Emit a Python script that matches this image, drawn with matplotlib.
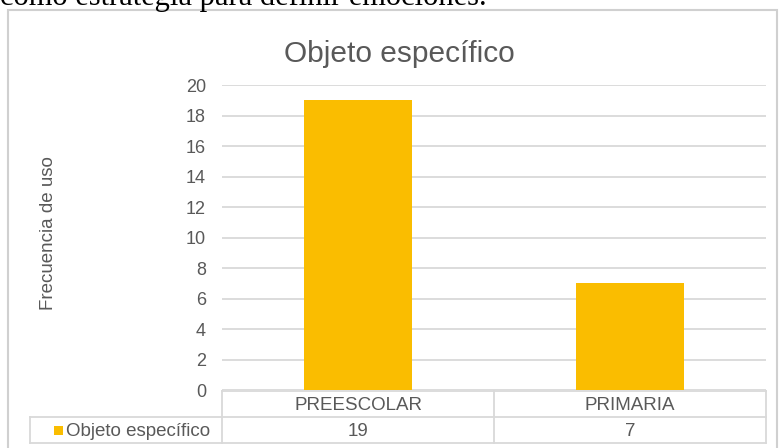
import matplotlib
matplotlib.use("Agg")
import matplotlib.pyplot as plt
from matplotlib.patches import Rectangle
from matplotlib.lines import Line2D

categories = ["PREESCOLAR", "PRIMARIA"]
values = [19, 7]
series_name = "Objeto específico"
title = "Objeto específico"
ylabel = "Frecuencia de uso"
yticks = [0, 2, 4, 6, 8, 10, 12, 14, 16, 18, 20]
caption = "como estrategia para definir emociones."

W, H = 780, 448
BAR = "#FABD00"
GRID = "#D9D9D9"
TXT = "#595959"
FS = 13.5

plt.rcParams['font.family'] = ['Liberation Sans', 'DejaVu Sans']
fig = plt.figure(figsize=(W / 100, H / 100), dpi=100)

def fx(x):
    return x / W

def fy(y):
    return 1 - y / H

# outer chart border
fig.add_artist(Rectangle((fx(8), fy(460)), fx(777 - 8), (460 - 10) / H,
                         transform=fig.transFigure, fill=False,
                         edgecolor="#D0D0D0", lw=1.5))

# caption cut off at top (as in the reference)
fig.text(fx(0), fy(5), caption, family=['Liberation Serif', 'DejaVu Serif'],
         fontsize=22, color="black", ha="left", va="baseline")

x0, x1 = 222, 766
ytop, ybot = 85, 390
ax = fig.add_axes([fx(x0), fy(ybot), fx(x1 - x0), (ybot - ytop) / H])
ax.set_xlim(-0.5, len(categories) - 0.5)
ax.set_ylim(0, 20)
ax.bar(range(len(categories)), values, width=0.4, color=BAR, zorder=3)
ax.set_yticks(yticks)
ax.yaxis.grid(True, color=GRID, lw=1.3, zorder=0)
ax.set_axisbelow(True)
ax.tick_params(axis="y", length=0, pad=11.5, labelsize=13, labelcolor=TXT)
ax.set_xticks([])
for s in ax.spines.values():
    s.set_visible(False)
ax.set_yticklabels([str(t) for t in yticks])

# title and y label
fig.text(fx(399), fy(62), title, fontsize=21.5, color=TXT, ha="center", va="baseline")
fig.text(fx(49), fy(233), ylabel, fontsize=FS, color=TXT, ha="center",
         va="center", rotation=90)

# data table
r0, r1, r2 = 391, 417, 443
lx = 30
colw = (x1 - x0) / len(categories)

def hline(xa, xb, y):
    fig.add_artist(Line2D([fx(xa), fx(xb)], [fy(y), fy(y)], color=GRID, lw=1.3,
                          transform=fig.transFigure))

def vline(x, ya, yb):
    fig.add_artist(Line2D([fx(x), fx(x)], [fy(ya), fy(yb)], color=GRID, lw=1.3,
                          transform=fig.transFigure))

hline(x0, x1, r0)
hline(lx, x1, r1)
hline(lx, x1, r2)
vline(lx, r1, r2)
for i in range(len(categories) + 1):
    vline(x0 + i * colw, r0, r2)

for i, (c, v) in enumerate(zip(categories, values)):
    cx = x0 + (i + 0.5) * colw
    fig.text(fx(cx), fy((r0 + r1) / 2 + 1), c, fontsize=FS, color=TXT,
             ha="center", va="center")
    fig.text(fx(cx), fy((r1 + r2) / 2 + 1), str(v), fontsize=FS, color=TXT,
             ha="center", va="center")

fig.add_artist(Rectangle((fx(54), fy(435)), fx(9), 9 / H, transform=fig.transFigure,
                         facecolor=BAR, edgecolor="none"))
fig.text(fx(66), fy((r1 + r2) / 2 + 1), series_name, fontsize=FS, color=TXT,
         ha="left", va="center")

fig.savefig("out.png", dpi=100)
